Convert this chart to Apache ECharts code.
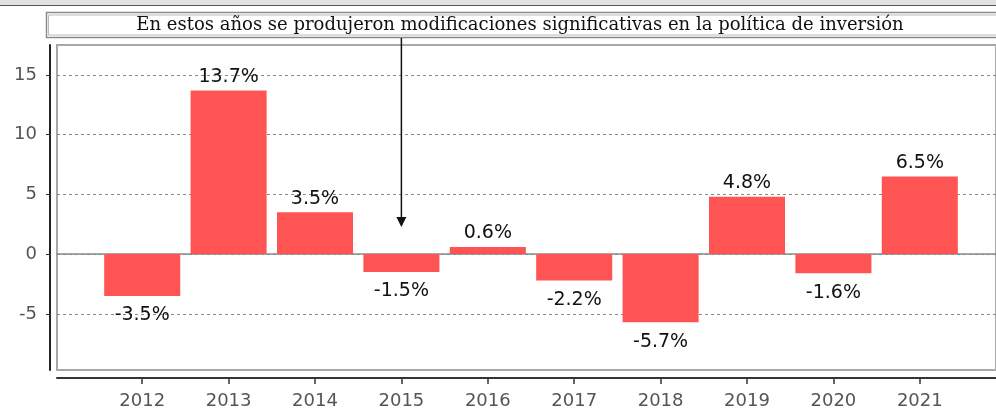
<!DOCTYPE html>
<html>
<head>
<meta charset="utf-8">
<script src="https://cdn.jsdelivr.net/npm/echarts@6/dist/echarts.min.js"></script>
<style>
  html, body { margin: 0; padding: 0; background: #fff; }
  #chart { width: 996px; height: 412px; }
</style>
</head>
<body>
<div id="chart"></div>
<script>
const years = ['2012', '2013', '2014', '2015', '2016', '2017', '2018', '2019', '2020', '2021'];
const changes = [-3.5, 13.7, 3.5, -1.5, 0.6, -2.2, -5.7, 4.8, -1.6, 6.5];
const yTicks = [-5, 0, 5, 10, 15];
const note = 'En estos años se produjeron modificaciones significativas en la política de inversión';
const noteYear = '2015';

const chart = echarts.init(document.getElementById('chart'));

const yMin = -9.7, yMax = 17.5;

const option = {
  animation: false,
  backgroundColor: '#fff',
  grid: [
    // frame with dashed grid lines
    { left: 57, right: -30, top: 45, bottom: 42, show: true, borderColor: '#a8a8a8', borderWidth: 2, backgroundColor: 'transparent' },
    // bars
    { left: 99, width: 864, top: 45, bottom: 42 }
  ],
  xAxis: [
    { // zero line
      gridIndex: 0, type: 'value', min: 0, max: 1,
      axisLine: { show: true, onZero: true, lineStyle: { color: '#8a8a8a', width: 1.5 } },
      axisTick: { show: false }, axisLabel: { show: false }, splitLine: { show: false }
    },
    { // bottom axis line
      gridIndex: 0, type: 'value', min: 0, max: 1, position: 'bottom', offset: 8,
      axisLine: { show: true, onZero: false, lineStyle: { color: '#333', width: 2 } },
      axisTick: { show: false }, axisLabel: { show: false }, splitLine: { show: false }
    },
    { // categories
      gridIndex: 1, type: 'category', data: years, position: 'bottom', offset: 9,
      axisLine: { show: false, onZero: false },
      axisTick: { show: true, alignWithLabel: true, length: 5, lineStyle: { color: '#333', width: 1.5 } },
      axisLabel: { color: '#555', fontSize: 18, fontFamily: 'DejaVu Sans', margin: 13 }
    }
  ],
  yAxis: [
    { // dashed split lines inside the frame
      gridIndex: 0, type: 'value', min: yMin, max: yMax,
      axisLine: { show: false },
      axisTick: { show: false, customValues: yTicks },
      axisLabel: { show: false, customValues: yTicks },
      splitLine: { show: true, lineStyle: { color: '#8a8a8a', type: [3, 3], width: 1 } }
    },
    { // visible axis, left of the frame
      gridIndex: 0, type: 'value', min: yMin, max: yMax, position: 'left', offset: 7,
      axisLine: { show: true, onZero: false, lineStyle: { color: '#222', width: 2 } },
      axisTick: { show: true, length: 4, customValues: yTicks, lineStyle: { color: '#333' } },
      axisLabel: { color: '#555', fontSize: 18, fontFamily: 'DejaVu Sans', margin: 13, customValues: yTicks },
      splitLine: { show: false }
    },
    {
      gridIndex: 1, type: 'value', min: yMin, max: yMax, show: false
    }
  ],
  series: [{
    type: 'bar',
    xAxisIndex: 2,
    yAxisIndex: 2,
    barWidth: '88%',
    itemStyle: { color: '#ff5454' },
    data: changes.map(v => ({
      value: v,
      label: { position: v < 0 ? 'bottom' : 'top', distance: v < 0 ? 10 : 4 }
    })),
    label: {
      show: true,
      color: '#111',
      fontSize: 19,
      fontFamily: 'DejaVu Sans',
      formatter: p => p.value.toFixed(1) + '%'
    }
  }]
};

chart.setOption(option);

// annotation box, text and arrow pointing at the noted year
const ax = chart.convertToPixel({ seriesIndex: 0 }, [noteYear, 0])[0];
chart.setOption({
  graphic: [
    { type: 'rect', shape: { x: 0, y: 0, width: 996, height: 5 }, style: { fill: '#e2e2e2' } },
    { type: 'line', shape: { x1: 0, y1: 5.5, x2: 996, y2: 5.5 }, style: { stroke: '#555', lineWidth: 1 } },
    { type: 'rect', shape: { x: 46.5, y: 12.5, width: 980, height: 25 }, style: { fill: '#fff', stroke: '#8a8a8a', lineWidth: 1.5 } },
    { type: 'rect', shape: { x: 48.5, y: 15, width: 980, height: 20 }, style: { fill: 'none', stroke: '#bbb', lineWidth: 1 } },
    {
      type: 'text', x: 520, y: 25,
      style: { text: note, fill: '#111', font: '18px "DejaVu Serif"', align: 'center', verticalAlign: 'middle' }
    },
    { type: 'line', shape: { x1: ax, y1: 38, x2: ax, y2: 220 }, style: { stroke: '#111', lineWidth: 1.5 } },
    { type: 'polygon', shape: { points: [[ax - 5, 217], [ax + 5, 217], [ax, 227]] }, style: { fill: '#111' } }
  ]
});
</script>
</body>
</html>
